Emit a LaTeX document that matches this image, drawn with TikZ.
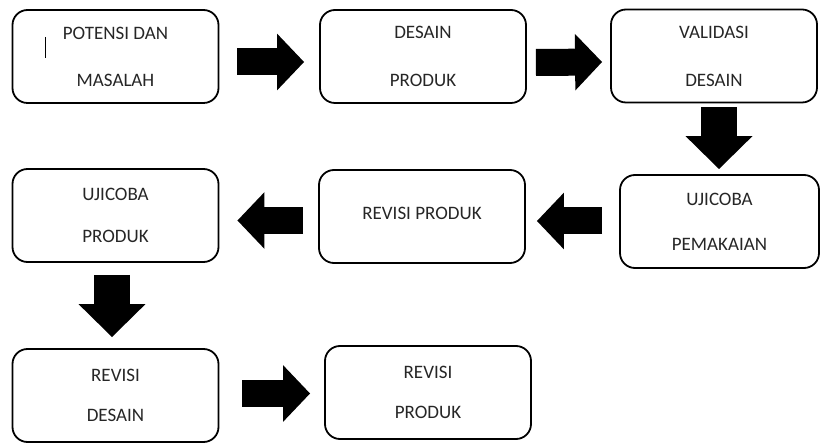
\documentclass[tikz,border=0pt]{standalone}
\usepackage{fontspec}
\setmainfont{Carlito}
\usepackage{tikz}
\usetikzlibrary{calc,arrows.meta}

\tikzset{
    tahap/.style={draw,rounded corners=15pt,line width=1.8pt,
        minimum width=206pt,minimum height=93pt,align=center,
        font=\fontsize{19}{#1}\selectfont,text=black!85},
    tahap/.default=44,
    panahH/.style={line width=27pt,-{Triangle[length=27pt,width=55pt]}},
    panahV/.style={line width=36pt,-{Triangle[length=33pt,width=65pt]}}
}

\begin{document}
\begin{tikzpicture}[x=1pt,y=-1pt]
        \useasboundingbox (0,0) rectangle (820,443);
        % tahapan
        \node[tahap=47] (potensi) at (115.5,56.5) {POTENSI DAN\\MASALAH};
        \node[tahap=48] (desain) at (423,56.5) {DESAIN\\PRODUK};
        \node[tahap=48] (validasi) at (714,56) {VALIDASI\\DESAIN};
        \node[tahap=45,minimum width=199pt] (pemakaian) at (719.5,221.5) {UJICOBA\\PEMAKAIAN};
        \node[tahap] (revisiA) at (422,216.5) {\raisebox{6pt}{REVISI PRODUK}};
        \node[tahap=42] (ujicoba) at (115.5,215.5) {UJICOBA\\PRODUK};
        \node[tahap=40] (revdesain) at (115.5,395.5) {REVISI\\DESAIN};
        \node[tahap=40] (revisiB) at (428,392.5) {REVISI\\PRODUK};
        % kursor
        \draw[line width=1pt] (45,37) -- (45,58);
        % panah blok
        \draw[panahH] ($(potensi.east)+(18,5.5)$) -- ($(desain.west)+(-15,5.5)$);
        \draw[panahH] ($(desain.east)+(9,6)$) -- ($(validasi.west)+(-8,6)$);
        \draw[panahV] ($(validasi.south)+(5,4)$) -- ($(pemakaian.north)+(-0.5,-5)$);
        \draw[panahH] ($(pemakaian.west)+(-17,-0.5)$) -- ($(revisiA.east)+(11,4.5)$);
        \draw[panahH] ($(revisiA.west)+(-15,4)$) -- ($(ujicoba.east)+(18,5)$);
        \draw[panahV] ($(ujicoba.south)+(-3.5,12)$) -- ($(revdesain.north)+(-3.5,-11)$);
        \draw[panahH] ($(revdesain.east)+(23,-2)$) -- ($(revisiB.west)+(-14,1)$);
    \end{tikzpicture}
\end{document}
